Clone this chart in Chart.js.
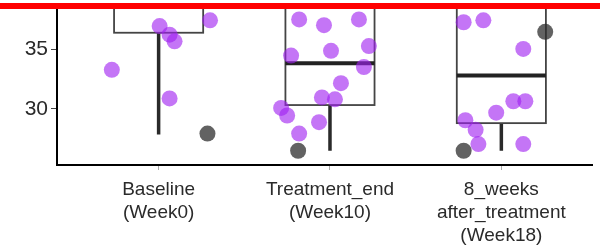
<!DOCTYPE html>
<html><head><meta charset="utf-8">
<script src="https://cdn.jsdelivr.net/npm/chart.js@4.4.0/dist/chart.umd.min.js"></script>
<style>html,body{margin:0;padding:0;background:#fff;overflow:hidden}#wrap{width:600px;height:245px;position:relative}</style>
</head><body><div id="wrap"><canvas id="c" width="600" height="245"></canvas></div>
<script>
const categories = [['Baseline','(Week0)'],['Treatment_end','(Week10)'],['8_weeks','after_treatment','(Week18)']];
const yTicks = [30, 35];

const boxQ1 = [36.4, 30.32, 28.8];
const boxMedian = [39.2, 33.84, 32.8];
const boxQ3 = [40.5, 39.0, 39.0];
const whiskerLow = [27.84, 26.48, 26.48];
const whiskerHigh = [42, 41, 41];

const baselineValues = [33.28, 36.96, 36.24, 35.68, 37.44, 30.88];
const baselineJitter = [-0.273, 0.006, 0.064, 0.093, 0.30, 0.064];
const treatmentValues = [37.52, 37.04, 37.52, 34.88, 35.28, 34.48, 33.52, 32.16, 30.96, 30.8, 30.08, 29.44, 28.88, 27.92];
const treatmentJitter = [-0.18, -0.035, 0.169, 0.006, 0.227, -0.227, 0.198, 0.064, -0.047, 0.029, -0.285, -0.25, -0.064, -0.18];
const week18Values = [37.28, 37.44, 35.04, 30.64, 30.64, 29.68, 29.04, 28.24, 27.04, 27.04];
const week18Jitter = [-0.22, -0.105, 0.128, 0.07, 0.14, -0.03, -0.21, -0.15, -0.134, 0.128];

const outlierGroup = [1, 2, 3, 3];
const outlierJitter = [0.285, -0.186, 0.256, -0.22];
const outlierValues = [27.92, 26.48, 36.48, 26.48];

function pts(group, jit, vals){ return vals.map((v,i)=>({x: group + jit[i], y: v})); }
const purplePoints = [].concat(
  pts(1, baselineJitter, baselineValues),
  pts(2, treatmentJitter, treatmentValues),
  pts(3, week18Jitter, week18Values)
);
const grayPoints = outlierValues.map((v,i)=>({x: outlierGroup[i] + outlierJitter[i], y: v}));

const boxPlugin = {
  id: 'boxes',
  beforeDatasetsDraw(chart){
    const {ctx, chartArea:a, scales:{x, y}} = chart;
    ctx.save();
    ctx.beginPath(); ctx.rect(a.left, a.top, a.right-a.left, a.bottom-a.top); ctx.clip();
    for (let i=0;i<categories.length;i++){
      const c = i+1;
      const xl = x.getPixelForValue(c-0.26), xr = x.getPixelForValue(c+0.26), xc = x.getPixelForValue(c);
      const yq1 = y.getPixelForValue(boxQ1[i]), yq3 = y.getPixelForValue(boxQ3[i]);
      const ym = y.getPixelForValue(boxMedian[i]);
      ctx.strokeStyle = '#2a2a2a'; ctx.lineWidth = 3.5; ctx.lineCap='butt';
      ctx.beginPath(); ctx.moveTo(xc, yq1); ctx.lineTo(xc, y.getPixelForValue(whiskerLow[i]));
      ctx.moveTo(xc, yq3); ctx.lineTo(xc, y.getPixelForValue(whiskerHigh[i])); ctx.stroke();
      ctx.strokeStyle = '#444'; ctx.lineWidth = 1.8;
      ctx.strokeRect(xl, yq3, xr-xl, yq1-yq3);
      ctx.strokeStyle = '#222'; ctx.lineWidth = 4;
      ctx.beginPath(); ctx.moveTo(xl, ym); ctx.lineTo(xr, ym); ctx.stroke();
    }
    ctx.restore();
  },
  afterDraw(chart){
    const ctx = chart.ctx;
    ctx.save();
    ctx.fillStyle = '#fff'; ctx.fillRect(0, 0, chart.width, 3);
    ctx.fillStyle = '#ff0000'; ctx.fillRect(0, 3, chart.width, 6);
    ctx.restore();
  }
};

new Chart(document.getElementById('c'), {
  type: 'scatter',
  data: { datasets: [
    { data: purplePoints, backgroundColor: 'rgba(160,32,240,0.62)', borderWidth: 0, pointRadius: 8, pointHoverRadius: 8 },
    { data: grayPoints, backgroundColor: 'rgba(45,45,45,0.75)', borderWidth: 0, pointRadius: 8, pointHoverRadius: 8 }
  ]},
  options: {
    responsive: false, animation: false, devicePixelRatio: 1,
    layout: { padding: 0 },
    plugins: { legend: {display:false}, tooltip: {enabled:false} },
    scales: {
      x: {
        type: 'linear', min: 0.407, max: 3.529,
        afterBuildTicks(s){ s.ticks = categories.map((_,i)=>({value:i+1})); },
        afterFit(s){ s.height = 80; s.paddingLeft = 0; s.paddingRight = 0; },
        ticks: { callback: v => categories[v-1], color: '#2a2a2a', font: {family: 'Liberation Sans, Arial, sans-serif', size: 19, lineHeight: 1.22}, padding: 8, maxRotation: 0, autoSkip: false },
        grid: { drawOnChartArea: false, drawTicks: true, tickLength: 5, color: '#aaa' },
        border: { display: true, color: '#000', width: 2 }
      },
      y: {
        min: 25.28, max: 38.48,
        afterBuildTicks(s){ s.ticks = yTicks.map(v=>({value:v})); },
        afterFit(s){ s.width = 57; s.paddingTop = 0; s.paddingBottom = 0; },
        ticks: { color: '#2a2a2a', font: {family: 'Liberation Sans, Arial, sans-serif', size: 21}, padding: 3 },
        grid: { drawOnChartArea: false, drawTicks: true, tickLength: 6, color: '#444' },
        border: { display: true, color: '#000', width: 2 }
      }
    }
  },
  plugins: [boxPlugin]
});
</script></body></html>
